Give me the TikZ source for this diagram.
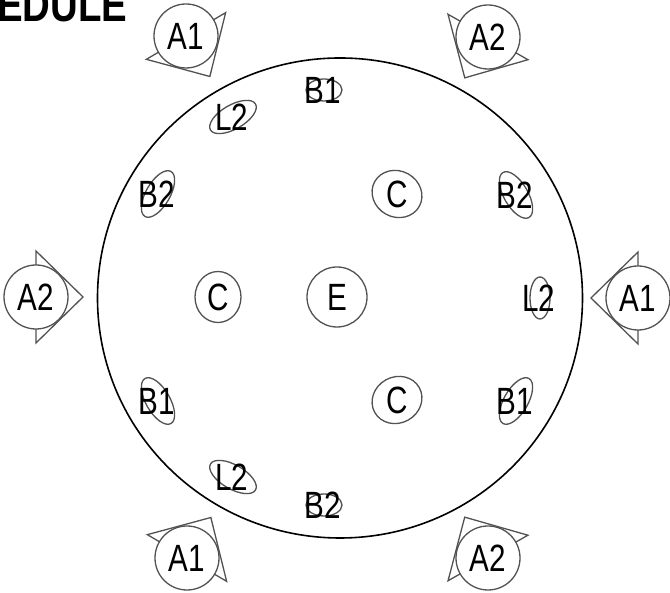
\documentclass[tikz,border=0pt]{standalone}
\usepackage{fontspec}
\setmainfont{Liberation Sans}[FakeStretch=0.78]
\newfontfamily\titlefont{Liberation Sans}[FakeStretch=0.8]
\begin{document}
\begin{tikzpicture}[x=1pt,y=1pt,
  mk/.style={draw=black!68, line width=1.3pt},
  lbl/.style={inner sep=0pt, font=\fontsize{38}{38}\selectfont},
  rim/.style={draw=black, line width=1.6pt}]
\useasboundingbox (0,0) rectangle (670,593);
\clip (0,0) rectangle (670,593);
% title (cut off at the page edge, as in the reference)
\node[anchor=base west, inner sep=0pt, font=\titlefont\bfseries\fontsize{48}{48}\selectfont] (title) at (-3,571) {EDULE};
% table
\draw[rim] (340,295) ellipse[x radius=242.5, y radius=240];
\coordinate (ctr) at (340,295);
% A markers
\foreach \nm/\x/\y/\ang/\t in {a1tl/186/557/-59.5/A1, a2tr/488/556/-119.6/A2, a2l/36/296/0/A2, a1r/638/295/180/A1, a1bl/187/35/59.5/A1, a2br/488/35/119.7/A2}{
  \begin{scope}[shift={(\x,\y)}, rotate=\ang]
    \draw[mk, line join=miter] (0,46) -- (47,0) -- (0,-46) -- cycle;
  \end{scope}
  \draw[mk, fill=white] (\x,\y) circle[radius=32];
  \node[lbl] (\nm) at (\x,\y) {\t};
}
% C / E
\draw[mk] (337,296) circle[radius=30];
\node[lbl] (e) at (337,296) {E};
\foreach \nm/\x/\y/\ang in {cl/218/296/90, ctr/397/399/-29, cbr/397/193/29}{
  \draw[mk, shift={(\x,\y)}, rotate=\ang] (0,0) ellipse[x radius=25.5, y radius=23];
  \node[lbl] (\nm) at (\x,\y) {C};
}
% small rotated markers
\foreach \nm/\x/\y/\ang/\a/\b/\t in {
  b1t/324/503/0/18/11/B1,
  l2t/233/476/30/26/12/L2,
  b2l/158/399/60/26/12/B2,
  b2r/516/398/-60/26/12/B2,
  l2r/540/295/90/21/10/L2,
  b1l/158/192/-60/26/12/B1,
  b1r/516/192/60/26/12/B1,
  l2b/233/116/-30/26/12/L2,
  b2b/324/88/0/18/11/B2}{
  \draw[mk, shift={(\x,\y)}, rotate=\ang] (0,0) ellipse[x radius=\a, y radius=\b];
  \node[lbl] (\nm) at (\x-1,\y) {\t};
}
\end{tikzpicture}
\end{document}
